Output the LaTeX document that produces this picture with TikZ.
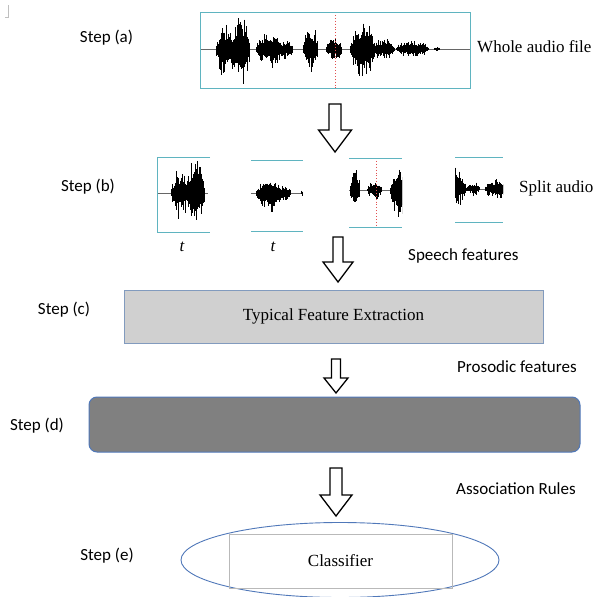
\documentclass[tikz,border=0pt]{standalone}
\usepackage{fontspec}
\setmainfont{Liberation Serif}
\newfontfamily\carl{Carlito}
\usetikzlibrary{shapes.geometric}
\definecolor{teal1}{RGB}{95,180,192}
\definecolor{redline}{RGB}{225,80,80}
\definecolor{boxc}{RGB}{208,208,208}
\definecolor{boxd}{RGB}{128,128,128}
\definecolor{bluebd}{RGB}{80,120,185}
\definecolor{lightbd}{RGB}{130,155,190}
\definecolor{grayrect}{RGB}{185,185,185}
\tikzset{
  lbl/.style={font=\carl\fontsize{17}{20}\selectfont, inner sep=0pt},
  slbl/.style={font=\fontsize{17}{20}\selectfont, inner sep=0pt},
  wave/.style={draw=black, line width=0.55pt},
  baseln/.style={draw=black!60, line width=0.7pt},
  frameln/.style={draw=teal1, line width=0.9pt},
  redd/.style={draw=redline, dotted, line width=0.9pt},
  harrow/.style={draw=black, line width=1.3pt, fill=white, line join=miter},
}
\newcommand\wburst[5]{%
  \pgfmathtruncatemacro\wn{(#2-#1)/0.5}%
  \foreach \i in {0,...,\wn}{%
    \pgfmathsetmacro\wt{\i/\wn}%
    \pgfmathsetmacro\wx{#1+\i*0.5}%
    \pgfmathsetmacro\we{sqrt(abs(sin(180*\wt)))}%
    \pgfmathsetmacro\wu{#3*\we*(0.3+0.7*rnd*rnd)}%
    \pgfmathsetmacro\wd{#4*\we*(0.3+0.7*rnd*rnd)}%
    \draw[wave] (\wx,#5-\wu) -- (\wx,#5+\wd);
  }}
\newcommand\harr[6]{% x, top, shoulder, tip, shaft half, head half
  \draw[harrow] (#1-#5,#2) -- (#1+#5,#2) -- (#1+#5,#3) -- (#1+#6,#3) -- (#1,#4)
    -- (#1-#6,#3) -- (#1-#5,#3) -- cycle;}
\begin{document}
\begin{tikzpicture}[x=1pt,y=-1pt]
\useasboundingbox (0,0) rectangle (595,597);
\pgfmathsetseed{7}
% crop mark
\draw[black!25, line width=0.6pt] (5,17) -- (8,17) -- (8,5);

% ---- Step (a)
\node[lbl] (sa) at (106.5,38) {Step (a)};
\draw[baseln] (200,49) -- (470,49);
\wburst{216}{236}{28}{33}{49}
\wburst{232}{250}{38}{40}{49}
\wburst{256}{284}{20}{21}{49}
\wburst{280}{293}{12}{12}{49}
\wburst{303}{318}{25}{26}{49}
\wburst{326}{342}{14}{14}{49}
\wburst{350}{375}{30}{34}{49}
\wburst{371}{395}{12}{12}{49}
\wburst{396}{429}{10}{10}{49}
\wburst{434}{440}{3}{3}{49}
\draw[redd] (335,12) -- (335,88);
\draw[frameln] (200,12) rectangle (470,88);
\node[slbl, anchor=west] (wa) at (477,47) {Whole audio file};

\harr{335}{104}{130}{152}{6}{16.5}

% ---- Step (b)
\node[lbl] (sb) at (88,187) {Step (b)};
% split 1
\draw[baseln] (157,193) -- (208,193);
\wburst{171}{190}{26}{28}{193}
\wburst{186}{205}{37}{40}{193}
\draw[frameln] (210,157) -- (157,157) -- (157,232) -- (210,232);
% split 2
\draw[baseln] (251,193) -- (303,193);
\wburst{256}{284}{14}{21}{193}
\wburst{280}{291}{10}{10}{193}
\wburst{301}{303}{4}{4}{193}
\draw[frameln] (251,160) -- (303,160);
\draw[frameln] (251,231) -- (303,231);
% split 3
\begin{scope}
\clip (349,150) rectangle (402,235);
\draw[baseln] (349,190) -- (402,190);
\wburst{350}{360}{23}{22}{190}
\wburst{367}{382}{11}{11}{190}
\wburst{390}{414}{27}{36}{190}
\end{scope}
\draw[redd] (376,158) -- (376,227);
\draw[frameln] (349,158) -- (402,158);
\draw[frameln] (349,227) -- (402,227);
% split 4
\begin{scope}
\clip (455,150) rectangle (503,230);
\draw[baseln] (455,189) -- (503,189);
\wburst{446}{466}{24}{20}{189}
\wburst{466}{480}{8}{8}{189}
\wburst{485}{507}{13}{13}{189}
\end{scope}
\draw[frameln] (455,157) -- (503,157);
\draw[frameln] (455,222) -- (503,222);
\node[slbl, anchor=west] (spl) at (519,188) {Split audio};
\node[slbl, font=\itshape\fontsize{17}{20}\selectfont] (t1) at (182,247) {t};
\node[slbl, font=\itshape\fontsize{17}{20}\selectfont] (t2) at (273,247) {t};

\harr{338}{237}{262}{282}{5}{15}
\node[lbl, anchor=west] (spf) at (408,256) {Speech features};

% ---- Step (c)
\node[lbl] (sc) at (64,310) {Step (c)};
\node[draw=lightbd, line width=0.6pt, fill=boxc, minimum width=419pt, minimum height=53pt,
      font=\fontsize{17}{20}\selectfont] (fe) at (333.5,316.5) {Typical Feature Extraction};

\harr{336}{359}{378}{393}{4.5}{12}
\node[lbl, anchor=west] (pf) at (457,367) {Prosodic features};

% ---- Step (d)
\node[lbl] (sd) at (37,426) {Step (d)};
\node[draw=bluebd, line width=1pt, fill=boxd, rounded corners=8pt, minimum width=491pt,
      minimum height=55pt] (ar) at (334.5,424.5) {};

\harr{336}{468}{495}{516}{6}{16}
\node[lbl, anchor=west] (asr) at (456,489) {Association Rules};

% ---- Step (e)
\node[lbl] (se) at (107,556) {Step (e)};
\node[draw=bluebd, line width=0.9pt, ellipse, minimum width=318pt, minimum height=75pt,
      inner sep=0pt] (el) at (340,560) {};
\node[draw=grayrect, line width=0.7pt, minimum width=223pt, minimum height=54pt,
      font=\fontsize{17}{20}\selectfont] (cl) at (340.5,561) {Classifier};
\end{tikzpicture}
\end{document}
